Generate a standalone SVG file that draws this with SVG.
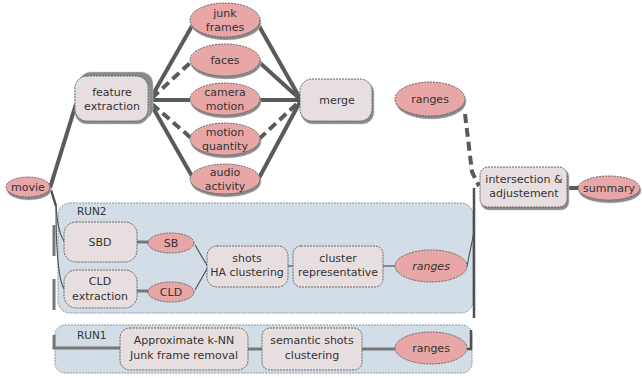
<svg xmlns="http://www.w3.org/2000/svg" width="642" height="378" viewBox="0 0 642 378">
<style>
text{font-family:"DejaVu Sans","Liberation Sans",sans-serif;font-size:11px;fill:#333;text-anchor:middle}
.lbl{text-anchor:start;font-size:10.5px}
.it{font-style:italic}
.ell{fill:#e8a6a6;stroke:#666;stroke-width:1;stroke-dasharray:2 1}
.box{fill:#e7dfdf;stroke:#666;stroke-width:1;stroke-dasharray:2 1}
.shd{fill:#8a8a8a;stroke:#c8c8c8;stroke-width:1;stroke-dasharray:1 1}
.cont{fill:#d3dde7;stroke:#8a96a0;stroke-width:1;stroke-dasharray:2 1}
.c{fill:none;stroke:#5a5a5a;stroke-width:4}
.cd{fill:none;stroke:#5a5a5a;stroke-width:4;stroke-dasharray:9 5}
.t{fill:none;stroke:#555;stroke-width:1.2}
.m{fill:none;stroke:#777;stroke-width:3}
.v{fill:none;stroke:#505050;stroke-width:2.5}
</style>

<g id="run2-container">
<rect class="cont" x="58" y="203" width="415" height="110" rx="12"/>
<text class="lbl" x="77" y="215">RUN2</text>
</g>
<g id="run1-container">
<rect class="cont" x="55" y="325" width="417" height="48" rx="10"/>
<text class="lbl" x="77" y="339">RUN1</text>
</g>

<g id="connectors">
<path class="c" d="M50,188 L76,104"/>
<path class="c" d="M152,96 L192,26"/>
<path class="cd" d="M152,98 L191,62"/>
<path class="c" d="M152,100 L190,100"/>
<path class="cd" d="M152,104 L191,138"/>
<path class="c" d="M152,106 L193,178"/>
<path class="c" d="M259,26 L301,100"/>
<path class="c" d="M259,62 L301,100"/>
<path class="c" d="M260,100 L301,100"/>
<path class="cd" d="M259,139 L301,100"/>
<path class="c" d="M259,178 L301,100"/>
<path class="cd" d="M465,114 L472,172 L479,186"/>
<path class="c" d="M568,188 L579,188"/>
<path class="v" d="M474,188 L474,318"/>
<path class="t" d="M467,266 L474,232"/>
<path class="v" d="M467,349 L471,349 L471,330"/>
<path class="v" d="M51,190 L56,206"/>
<path class="t" d="M56,206 Q58,235 65,242"/>
<path class="t" d="M56,206 Q56,280 65,290"/>
<path class="m" d="M54,225 L54,256 M54,279 L54,310 M54,335 L54,348 L120,348"/>
<path class="m" d="M137,242 L149,242"/>
<path class="m" d="M137,291 L149,291"/>
<path class="t" d="M195,245 L208,267 M195,290 L208,267"/>
<path class="t" d="M288,266 L294,266"/>
<path class="t" d="M383,266 L395,266"/>
<path class="m" d="M248,349 L262,349"/>
<path class="m" d="M362,349 L395,349"/>
</g>

<g id="movie">
<ellipse class="shd" cx="29" cy="190" rx="22" ry="10"/>
<ellipse class="ell" cx="28" cy="187" rx="22" ry="10"/>
<text x="28" y="191">movie</text>
</g>

<g id="feature-extraction">
<rect class="shd" x="79" y="72" width="74" height="48" rx="12"/>
<rect class="shd" x="75" y="78" width="74" height="46" rx="12"/>
<rect class="box" x="75" y="76" width="73" height="45" rx="12"/>
<text x="112" y="96">feature</text>
<text x="112" y="110">extraction</text>
</g>

<g id="junk-frames">
<ellipse class="shd" cx="226" cy="23" rx="35" ry="17"/>
<ellipse class="ell" cx="225" cy="20" rx="35" ry="17"/>
<text x="225" y="17">junk</text>
<text x="225" y="31">frames</text>
</g>
<g id="faces">
<ellipse class="shd" cx="226" cy="63" rx="35" ry="16"/>
<ellipse class="ell" cx="225" cy="60" rx="35" ry="16"/>
<text x="225" y="64">faces</text>
</g>
<g id="camera-motion">
<ellipse class="shd" cx="226" cy="102" rx="35" ry="16"/>
<ellipse class="ell" cx="225" cy="99" rx="35" ry="16"/>
<text x="225" y="96">camera</text>
<text x="225" y="110">motion</text>
</g>
<g id="motion-quantity">
<ellipse class="shd" cx="226" cy="142" rx="35" ry="16"/>
<ellipse class="ell" cx="225" cy="139" rx="35" ry="16"/>
<text x="225" y="136">motion</text>
<text x="225" y="150">quantity</text>
</g>
<g id="audio-activity">
<ellipse class="shd" cx="226" cy="182" rx="35" ry="15"/>
<ellipse class="ell" cx="225" cy="179" rx="35" ry="15"/>
<text x="225" y="176">audio</text>
<text x="225" y="190">activity</text>
</g>

<g id="merge">
<rect class="shd" x="301" y="81" width="73" height="43" rx="12"/>
<rect class="box" x="300" y="79" width="72" height="42" rx="12"/>
<text x="337" y="104">merge</text>
</g>

<g id="ranges-top">
<ellipse class="shd" cx="431" cy="102" rx="35" ry="17"/>
<ellipse class="ell" cx="430" cy="99" rx="35" ry="17"/>
<text x="430" y="103">ranges</text>
</g>

<g id="intersection">
<rect class="shd" x="481" y="169" width="88" height="41" rx="8"/>
<rect class="box" x="480" y="167" width="87" height="40" rx="8"/>
<text x="524" y="183">intersection &amp;</text>
<text x="524" y="197">adjustement</text>
</g>

<g id="summary">
<ellipse class="shd" cx="610" cy="191" rx="31" ry="12"/>
<ellipse class="ell" cx="609" cy="188" rx="31" ry="12"/>
<text x="609" y="192">summary</text>
</g>

<g id="sbd">
<rect class="box" x="64" y="222" width="73" height="40" rx="12"/>
<text x="100" y="246">SBD</text>
</g>
<g id="sb">
<ellipse class="ell" cx="171" cy="243" rx="23" ry="10"/>
<text x="171" y="247">SB</text>
</g>
<g id="cld-extraction">
<rect class="box" x="64" y="270" width="73" height="38" rx="12"/>
<text x="100" y="285">CLD</text>
<text x="100" y="300">extraction</text>
</g>
<g id="cld">
<ellipse class="ell" cx="171" cy="292" rx="23" ry="10"/>
<text x="171" y="296">CLD</text>
</g>
<g id="shots-ha">
<rect class="box" x="207" y="246" width="81" height="41" rx="10"/>
<text x="247" y="262">shots</text>
<text x="247" y="276">HA clustering</text>
</g>
<g id="cluster-rep">
<rect class="box" x="293" y="246" width="90" height="41" rx="8"/>
<text x="338" y="262">cluster</text>
<text x="338" y="276">representative</text>
</g>
<g id="ranges-run2">
<ellipse class="ell" cx="431" cy="266" rx="36" ry="16"/>
<text class="it" x="431" y="270">ranges</text>
</g>

<g id="approx-knn">
<rect class="box" x="120" y="328" width="128" height="42" rx="10"/>
<text x="184" y="344">Approximate k-NN</text>
<text x="184" y="359">Junk frame removal</text>
</g>
<g id="semantic-shots">
<rect class="box" x="262" y="328" width="100" height="42" rx="8"/>
<text x="312" y="344">semantic shots</text>
<text x="312" y="359">clustering</text>
</g>
<g id="ranges-run1">
<ellipse class="ell" cx="431" cy="348" rx="36" ry="16"/>
<text x="431" y="352">ranges</text>
</g>
</svg>
